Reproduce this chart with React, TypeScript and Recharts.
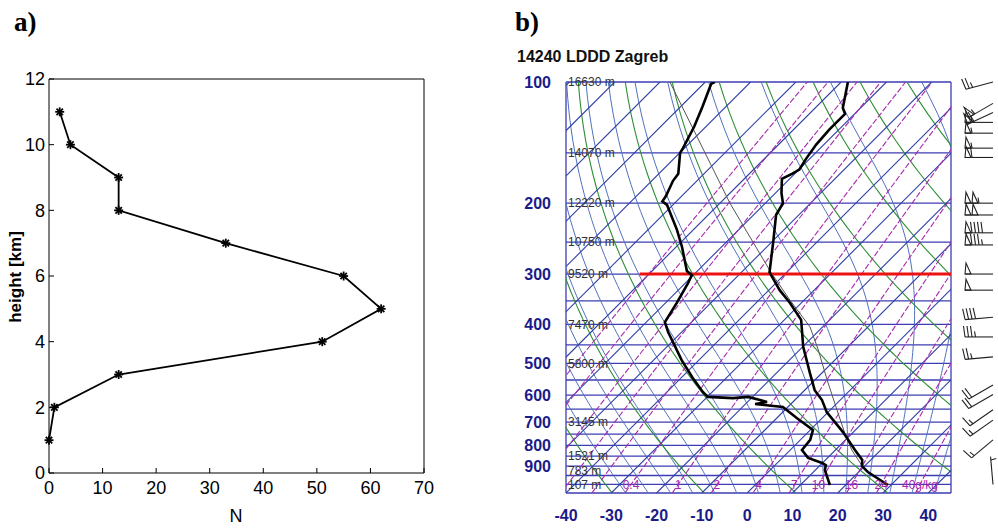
import React from "react";
import {
  LineChart,
  ComposedChart,
  Line,
  Scatter,
  XAxis,
  YAxis,
  ReferenceLine,
  ReferenceDot,
} from "recharts";

const FONT = "'Liberation Sans', Arial, sans-serif";
const NARROW = "'Liberation Sans Narrow', 'Liberation Sans', Arial, sans-serif";

// ---------- panel a: N per height ----------
const heightKm = [1, 2, 3, 4, 5, 6, 7, 8, 9, 10, 11];
const countN = [0, 1, 13, 51, 62, 55, 33, 13, 13, 4, 2];
const nTicks = [0, 10, 20, 30, 40, 50, 60, 70];
const hTicks = [0, 2, 4, 6, 8, 10, 12];

// ---------- panel b: sounding 14240 LDDD Zagreb ----------
const tempP = [100, 116, 120, 131, 143, 155, 165, 169, 174, 189, 200, 214, 251, 297, 329, 354, 390, 455, 529, 583, 617, 661, 741, 821, 869, 900, 931, 1003];
const tempC = [-68.5, -63.9, -62.1, -62.1, -61.7, -60.8, -59.9, -60.5, -61.7, -58.6, -56.1, -55.0, -49.5, -43.8, -37.6, -32.5, -26.3, -19.9, -12.6, -7.8, -4.0, -0.3, 7.7, 14.3, 18.1, 19.4, 22.0, 29.3];

const dewP = [100, 101, 115, 129, 146, 150, 169, 176, 192, 198, 202, 233, 257, 295, 302, 316, 354, 395, 418, 491, 544, 589, 606, 610, 606, 617, 624, 631, 642, 684, 732, 775, 821, 859, 884, 895, 921, 1003];
const dewC = [-97.9, -98.3, -95.2, -92.6, -90.3, -89.9, -85.7, -85.3, -83.5, -83.1, -81.3, -73.6, -68.7, -62.3, -60.3, -59.4, -57.5, -55.9, -53.0, -43.8, -37.4, -32.1, -29.9, -24.1, -21.0, -17.7, -15.7, -17.9, -11.1, -5.6, 0.6, 2.2, 2.6, 5.7, 9.9, 11.2, 12.1, 16.5];

const parcelP = [100, 200, 297, 348, 406, 463, 550, 653, 745, 821, 884, 921, 1003];
const parcelC = [-107.8, -67.8, -43.5, -33.2, -22.8, -15.9, -7.3, 1.5, 8.3, 13.6, 18.3, 20.9, 29.3];

const pressureTicks = [100, 200, 300, 400, 500, 600, 700, 800, 900];
const tempTicks = [-40, -30, -20, -10, 0, 10, 20, 30, 40];
const isobars = [100, 150, 200, 250, 300, 350, 400, 450, 500, 550, 600, 650, 700, 750, 800, 850, 900, 950, 1000, 1050];
const isotherms = [-130, -120, -110, -100, -90, -80, -70, -60, -50, -40, -30, -20, -10, 0, 10, 20, 30, 40];
const dryThetaK = [200, 220, 240, 260, 280, 300, 320, 340, 360, 380, 400, 420, 440];
const moistThetaW = [-30, -25, -20, -15, -10, -5, 0, 5, 10, 15, 20, 25, 30, 35, 40];
const mixingRatios = [0.01, 0.02, 0.05, 0.1, 0.2, 0.4, 1, 2, 4, 7, 10, 16, 24, 40];
const mixLabelValues = [0.4, 1, 2, 4, 7, 10, 16, 24, 40];
const mixLabelText = ["0.4", "1", "2", "4", "7", "10", "16", "24", "40g/kg"];

const levelP = [100, 150, 200, 250, 300, 400, 500, 700, 850, 925, 1000];
const levelHeight = ["16630 m", "14070 m", "12220 m", "10750 m", "9520 m", "7470 m", "5800 m", "3145 m", "1521 m", "783 m", "107 m"];

const markedLevel = 300; // red line
const markedFrom = -23.7; // where it starts, in skewed x units

const windP = [100, 113, 119, 126, 134, 146, 154, 200, 214, 237, 254, 300, 329, 384, 430, 482, 566, 598, 652, 692, 775, 1000];
const windDir = [255, 240, 245, 270, 270, 270, 270, 270, 270, 270, 270, 270, 270, 265, 270, 265, 240, 240, 235, 235, 230, 355];
const windKt = [25, 55, 60, 55, 55, 55, 60, 105, 100, 90, 85, 50, 50, 40, 35, 25, 20, 20, 15, 15, 15, 5];

// ---------- skew-T geometry ----------
const P_TOP = 100;
const P_BOT = 1050;
const T_MIN = -40;
const T_MAX = 45;
const PLOT_W = 385;
const PLOT_H = 411;
const SKEW = PLOT_H / Math.log(P_BOT / P_TOP) / (PLOT_W / (T_MAX - T_MIN)); // 45 deg isotherms
const skewX = (t: number, p: number) => t + SKEW * Math.log(P_BOT / p);

const RD = 287.04;
const CP = 1005.7;
const LV = 2.501e6;
const EPS = 0.622;
const satVap = (tc: number) => 6.112 * Math.exp((17.67 * tc) / (tc + 243.5));
const moistLapse = (tk: number, p: number) => {
  const es = satVap(tk - 273.15);
  const rs = (EPS * es) / (p - es);
  return (RD * tk + LV * rs) / (p * (CP + (LV * LV * rs * EPS) / (RD * tk * tk)));
};
const mixDew = (w: number, p: number) => {
  const a = Math.log((w * p) / (622 + w) / 6.112);
  return (243.5 * a) / (17.67 - a);
};

// pressure levels at which the diagram's reference curves are traced
const levels: number[] = [];
for (let p = P_BOT; p >= P_TOP; p -= 10) levels.push(p);

const isothermLines = isotherms.map((t) => [
  { x: skewX(t, P_BOT), p: P_BOT },
  { x: skewX(t, P_TOP), p: P_TOP },
]);
const dryLines = dryThetaK.map((th) =>
  levels.map((p) => ({ x: skewX(th * Math.pow(p / 1000, RD / CP) - 273.15, p), p }))
);
const moistLines = moistThetaW.map((tw) => {
  let tk = tw + 273.15;
  for (let p = 1000; p < P_BOT; p += 5) {
    const mid = tk + 2.5 * moistLapse(tk, p);
    tk += 5 * moistLapse(mid, p + 2.5);
  }
  const pts: { x: number; p: number }[] = [];
  for (let p = P_BOT; p >= P_TOP; p -= 10) {
    pts.push({ x: skewX(tk - 273.15, p), p });
    const mid = tk - 5 * moistLapse(tk, p);
    tk -= 10 * moistLapse(mid, p - 5);
  }
  return pts;
});
const mixLines = mixingRatios.map((w) => levels.map((p) => ({ x: skewX(mixDew(w, p), p), p })));

const tempData = tempP.map((p, i) => ({ x: skewX(tempC[i], p), p }));
const dewData = dewP.map((p, i) => ({ x: skewX(dewC[i], p), p }));
const parcelData = parcelP.map((p, i) => ({ x: skewX(parcelC[i], p), p }));
const markedData = [
  { x: markedFrom, p: markedLevel },
  { x: T_MAX, p: markedLevel },
];
const windData = windP.map((p, i) => ({ x: T_MAX, p, dir: windDir[i], kt: windKt[i] }));
const profileData = heightKm.map((h, i) => ({ n: countN[i], h }));

const NAVY = "#1b1b8a";
const ISOBAR = "#3c3cb4";
const ISOTHERM = "#2f3fa5";
const MOIST = "#5070c0";
const DRY = "#2e8f36";
const MIX = "#a82aac";
const BARB_OFFSET = 42;

const StarDot = (props: any) => {
  const { cx, cy, index } = props;
  if (cx == null || cy == null) return null;
  const r = 4.5;
  const d = 3.2;
  return (
    <g key={`s${index}`} stroke="#000" strokeWidth={1.8}>
      <line x1={cx - r} y1={cy} x2={cx + r} y2={cy} />
      <line x1={cx} y1={cy - r} x2={cx} y2={cy + r} />
      <line x1={cx - d} y1={cy - d} x2={cx + d} y2={cy + d} />
      <line x1={cx - d} y1={cy + d} x2={cx + d} y2={cy - d} />
    </g>
  );
};

const WindBarb = (props: any) => {
  const { cx, cy, payload } = props;
  if (cx == null || cy == null || !payload) return null;
  const bx = cx + BARB_OFFSET;
  const by = cy;
  const rad = (payload.dir * Math.PI) / 180;
  const ux = Math.sin(rad);
  const uy = -Math.cos(rad);
  const fx = -uy;
  const fy = ux;
  const L = 28;
  const F = 11;
  const at = (s: number) => [bx + ux * s, by + uy * s];
  let kt = Math.round(payload.kt / 5) * 5;
  const n50 = Math.floor(kt / 50);
  kt -= n50 * 50;
  const n10 = Math.floor(kt / 10);
  kt -= n10 * 10;
  const n5 = kt >= 5 ? 1 : 0;
  const parts: React.ReactNode[] = [];
  let s = L;
  for (let i = 0; i < n50; i++) {
    const [x1, y1] = at(s);
    const [x2, y2] = at(s - 6);
    parts.push(
      <polygon key={`p${i}`} points={`${x1},${y1} ${x1 + fx * F - ux},${y1 + fy * F - uy} ${x2},${y2}`} fill="none" />
    );
    s -= 7;
  }
  for (let i = 0; i < n10; i++) {
    const [x1, y1] = at(s);
    parts.push(<line key={`b${i}`} x1={x1} y1={y1} x2={x1 + fx * F + ux * 1.5} y2={y1 + fy * F + uy * 1.5} />);
    s -= 3.5;
  }
  if (n5) {
    if (n50 + n10 === 0) s -= 3.5;
    const [x1, y1] = at(s);
    parts.push(<line key="h" x1={x1} y1={y1} x2={x1 + fx * F * 0.5 + ux} y2={y1 + fy * F * 0.5 + uy} />);
  }
  const [tx, ty] = at(L);
  return (
    <g stroke="#222" strokeWidth={1.1} fill="none">
      <line x1={bx} y1={by} x2={tx} y2={ty} />
      {parts}
    </g>
  );
};

const refLine = (key: string, data: any[], stroke: string, width = 1, dash?: string) => (
  <Line
    key={key}
    data={data}
    dataKey="p"
    type="linear"
    stroke={stroke}
    strokeWidth={width}
    strokeDasharray={dash}
    dot={false}
    activeDot={false}
    isAnimationActive={false}
    legendType="none"
  />
);

export default function App() {
  return (
    <div style={{ position: "absolute", left: 0, top: 0, width: 998, height: 529, background: "#fff", overflow: "hidden" }}>
      <div style={{ position: "absolute", left: 0, top: 0 }}>
        <LineChart width={450} height={529} data={profileData} margin={{ top: 78, right: 25, bottom: 0, left: 0 }}>
          <XAxis
            xAxisId="n"
            dataKey="n"
            type="number"
            domain={[0, 70]}
            ticks={nTicks}
            interval={0}
            height={56}
            tickSize={-5}
            tickMargin={13}
            stroke="#000"
            tick={{ fill: "#000", fontSize: 18, fontFamily: NARROW }}
          />
          <XAxis xAxisId="top" orientation="top" type="number" domain={[0, 70]} ticks={nTicks} interval={0} height={1} tickSize={-5} tick={false} stroke="#000" />
          <YAxis
            yAxisId="h"
            type="number"
            domain={[0, 12]}
            ticks={hTicks}
            interval={0}
            width={49}
            tickSize={-5}
            tickMargin={9}
            stroke="#000"
            tick={{ fill: "#000", fontSize: 18, fontFamily: NARROW }}
          />
          <YAxis yAxisId="r" orientation="right" type="number" domain={[0, 12]} ticks={hTicks} interval={0} width={1} tickSize={-5} tick={false} stroke="#000" />
          <Line
            xAxisId="n"
            yAxisId="h"
            dataKey="h"
            type="linear"
            stroke="#000"
            strokeWidth={1.8}
            dot={<StarDot />}
            activeDot={false}
            isAnimationActive={false}
          />
        </LineChart>
      </div>

      <div style={{ position: "absolute", left: 500, top: 0 }}>
        <ComposedChart width={498} height={529} margin={{ top: 82, right: 47, bottom: 0, left: 0 }}>
          <XAxis
            dataKey="x"
            type="number"
            domain={[T_MIN, T_MAX]}
            allowDataOverflow
            ticks={tempTicks}
            interval={0}
            height={36}
            axisLine={false}
            tickLine={false}
            tickSize={0}
            tickMargin={17}
            tick={{ fill: NAVY, fontSize: 16, fontWeight: "bold", fontFamily: FONT }}
          />
          <YAxis
            type="number"
            scale="log"
            domain={[P_TOP, P_BOT]}
            reversed
            allowDataOverflow
            ticks={pressureTicks}
            interval={0}
            width={66}
            axisLine={false}
            tickLine={false}
            tickSize={0}
            tickMargin={15}
            tick={{ fill: NAVY, fontSize: 16, fontWeight: "bold", fontFamily: FONT }}
          />
          <XAxis xAxisId="w" dataKey="x" type="number" domain={[T_MIN, T_MAX]} hide />
          <YAxis yAxisId="w" dataKey="p" type="number" scale="log" domain={[P_TOP, P_BOT]} reversed hide />

          {isobars.map((p) => (
            <ReferenceLine key={`ib${p}`} y={p} stroke={ISOBAR} strokeWidth={1.3} />
          ))}
          <ReferenceLine x={T_MIN} stroke={ISOBAR} strokeWidth={1.3} />
          <ReferenceLine x={T_MAX} stroke={ISOBAR} strokeWidth={1.3} />

          {moistLines.map((d, i) => refLine(`moist${i}`, d, MOIST, 1))}
          {dryLines.map((d, i) => refLine(`dry${i}`, d, DRY, 1.1))}
          {isothermLines.map((d, i) => refLine(`iso${i}`, d, ISOTHERM, 1.1))}
          {mixLines.map((d, i) => refLine(`mix${i}`, d, MIX, 1.1, "6 2"))}

          {levelP.map((p, i) => (
            <ReferenceLine
              key={`lv${p}`}
              y={p}
              stroke="none"
              label={{ value: levelHeight[i], position: "insideLeft", offset: 2, fill: "#333", fontSize: 12, fontFamily: FONT }}
            />
          ))}
          {mixLabelValues.map((w, i) => (
            <ReferenceDot
              key={`ml${w}`}
              x={skewX(mixDew(w, 1000), 1000)}
              y={1000}
              r={0}
              fill="none"
              stroke="none"
              label={{ value: mixLabelText[i], position: "center", fill: MIX, fontSize: 12, fontFamily: FONT }}
            />
          ))}

          {refLine("parcel", parcelData, "#555", 1)}
          {refLine("marked", markedData, "#ee1111", 3)}
          {refLine("dew", dewData, "#000", 2.6)}
          {refLine("temp", tempData, "#000", 2.6)}

          <Scatter xAxisId="w" yAxisId="w" data={windData} shape={<WindBarb />} isAnimationActive={false} legendType="none" />
        </ComposedChart>
      </div>

      <svg width={998} height={529} style={{ position: "absolute", left: 0, top: 0, pointerEvents: "none" }}>
        <text x={14} y={31} fontFamily="'Liberation Serif', 'Times New Roman', serif" fontWeight="bold" fontSize={27} fill="#000">
          a)
        </text>
        <text x={515} y={31} fontFamily="'Liberation Serif', 'Times New Roman', serif" fontWeight="bold" fontSize={27} fill="#000">
          b)
        </text>
        <text x={517} y={62} fontFamily={FONT} fontWeight="bold" fontSize={16} fill="#111">
          14240 LDDD Zagreb
        </text>
        <text transform="translate(21,277) rotate(-90)" textAnchor="middle" fontFamily={FONT} fontWeight="bold" fontSize={17} fill="#000">
          height [km]
        </text>
        <text x={236} y={522} textAnchor="middle" fontFamily={NARROW} fontSize={18} fill="#000">
          N
        </text>
      </svg>
    </div>
  );
}
